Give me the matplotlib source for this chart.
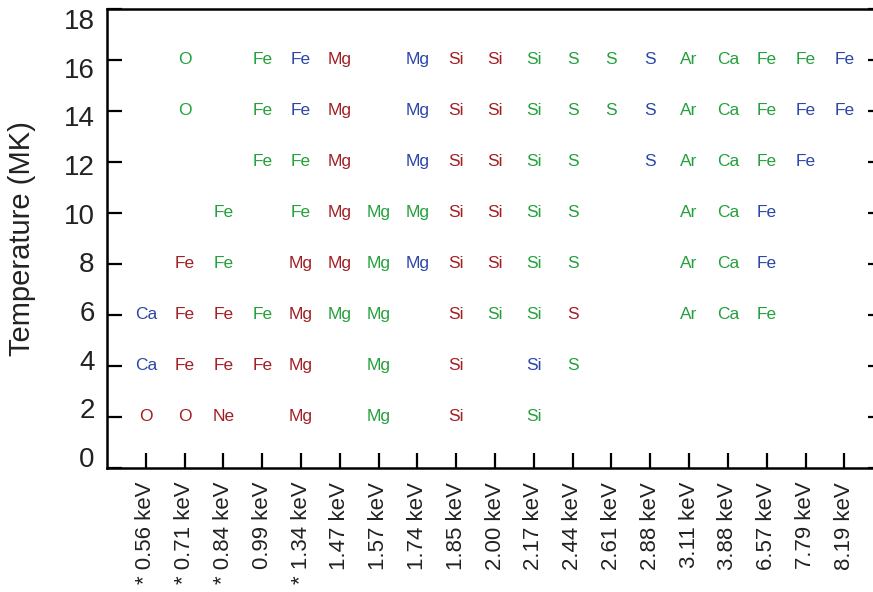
import matplotlib.pyplot as plt
import matplotlib.transforms as mtransforms

plt.rcParams['font.family'] = ['Liberation Sans', 'DejaVu Sans']

# energies on the x axis (* marks a flagged line)
energies = ['0.56', '0.71', '0.84', '0.99', '1.34', '1.47', '1.57', '1.74', '1.85', '2.00',
            '2.17', '2.44', '2.61', '2.88', '3.11', '3.88', '6.57', '7.79', '8.19']
starred = ['0.56', '0.71', '0.84', '1.34']

temps = [16, 14, 12, 10, 8, 6, 4, 2]
yticks = [0, 2, 4, 6, 8, 10, 12, 14, 16, 18]

# one entry per energy: "element colour", '' = nothing
row16 = ['', 'O g', '', 'Fe g', 'Fe b', 'Mg r', '', 'Mg b', 'Si r', 'Si r',
         'Si g', 'S g', 'S g', 'S b', 'Ar g', 'Ca g', 'Fe g', 'Fe g', 'Fe b']
row14 = ['', 'O g', '', 'Fe g', 'Fe b', 'Mg r', '', 'Mg b', 'Si r', 'Si r',
         'Si g', 'S g', 'S g', 'S b', 'Ar g', 'Ca g', 'Fe g', 'Fe b', 'Fe b']
row12 = ['', '', '', 'Fe g', 'Fe g', 'Mg r', '', 'Mg b', 'Si r', 'Si r',
         'Si g', 'S g', '', 'S b', 'Ar g', 'Ca g', 'Fe g', 'Fe b', '']
row10 = ['', '', 'Fe g', '', 'Fe g', 'Mg r', 'Mg g', 'Mg g', 'Si r', 'Si r',
         'Si g', 'S g', '', '', 'Ar g', 'Ca g', 'Fe b', '', '']
row8 = ['', 'Fe r', 'Fe g', '', 'Mg r', 'Mg r', 'Mg g', 'Mg b', 'Si r', 'Si r',
        'Si g', 'S g', '', '', 'Ar g', 'Ca g', 'Fe b', '', '']
row6 = ['Ca b', 'Fe r', 'Fe r', 'Fe g', 'Mg r', 'Mg g', 'Mg g', '', 'Si r', 'Si g',
        'Si g', 'S r', '', '', 'Ar g', 'Ca g', 'Fe g', '', '']
row4 = ['Ca b', 'Fe r', 'Fe r', 'Fe r', 'Mg r', '', 'Mg g', '', 'Si r', '',
        'Si b', 'S g', '', '', '', '', '', '', '']
row2 = ['O r', 'O r', 'Ne r', '', 'Mg r', '', 'Mg g', '', 'Si r', '',
        'Si g', '', '', '', '', '', '', '', '']
rows = [row16, row14, row12, row10, row8, row6, row4, row2]

colors = {'g': '#24a03c', 'b': '#2b46a8', 'r': '#a21f24'}

fig = plt.figure(figsize=(8.73, 5.92), dpi=100)
ax = fig.add_axes([0.1226, 0.2095, 0.889, 0.7753])

for t, row in zip(temps, rows):
    for i, cell in enumerate(row):
        if cell:
            el, c = cell.split()
            ax.text(i, t, el, color=colors[c], fontsize=12.5, ha='center', va='center')

ax.set_xlim(-1, 19)
ax.set_ylim(0, 18)

labels = [('* ' if e in starred else '') + e + ' keV' for e in energies]
ax.set_xticks(range(len(energies)))
ax.set_xticklabels(labels, rotation=90, fontsize=16, color='#222222')
ax.tick_params(direction='in', length=11, width=1.6)
ax.tick_params(axis='x', pad=10)

# y tick labels sit a bit squeezed toward the middle in the original
ax.set_yticks(yticks)
ax.set_yticklabels([])
ax.tick_params(axis='y', right=True)
trans = mtransforms.blended_transform_factory(ax.transAxes, ax.transData)
for v in yticks:
    ax.text(-0.016, 0.314 + 0.954 * v, str(v), transform=trans, fontsize=20,
            color='#222222', ha='right', va='center')

ax.set_ylabel('Temperature (MK)', fontsize=21, color='#222222', labelpad=48)

for s in ax.spines.values():
    s.set_linewidth(1.8)

plt.savefig('out.png', dpi=100)
